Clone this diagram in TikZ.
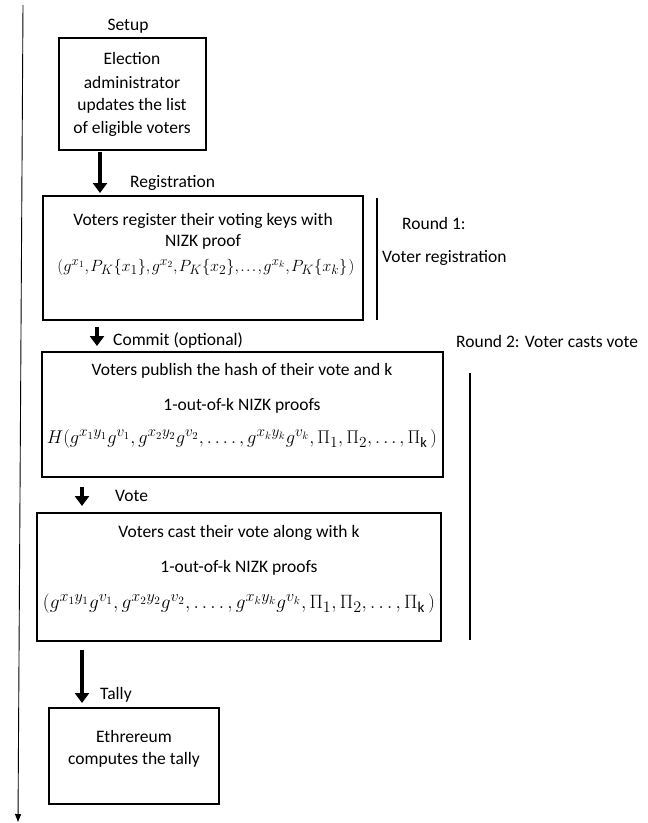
\documentclass[tikz,border=0pt]{standalone}
\usepackage{fontspec}
\setmainfont{Carlito}
\usetikzlibrary{arrows.meta}
\DeclareMathSizes{17.5}{17.5}{13.5}{10}
\begin{document}
\begin{tikzpicture}[x=1pt,y=-1pt,
  box/.style={draw, line width=2.6pt, inner sep=0pt},
  txt/.style={font=\fontsize{17.5}{20}\selectfont, inner sep=0pt, anchor=center},
  lbl/.style={font=\fontsize{17.5}{20}\selectfont, inner sep=0pt, anchor=west},
  bigarrow/.style={line width=4.5pt, -{Triangle[width=14pt,length=10pt]}},
  bar/.style={line width=2.6pt},
  timeline/.style={line width=0.9pt, -{Triangle[width=6pt,length=8pt]}}]
\useasboundingbox (0,0) rectangle (648,823);

% timeline
\coordinate (tltop) at (23,5);
\coordinate (tlbot) at (18,822);
\draw[timeline] (tltop) -- (tlbot);

% Setup
\node[txt] (setuplbl) at (128,26) {Setup};
\node[box, minimum width=147pt, minimum height=112pt] (setup) at (132.5,94) {};
\node[txt] (s1) at (132,58) {Election};
\node[txt] (s2) at (132,82) {administrator};
\node[txt] (s3) at (132,106) {updates the list};
\node[txt] (s4) at (132,129) {of eligible voters};

% arrow 1
\coordinate (a1s) at (100,152);
\coordinate (a1e) at (100,193);
\draw[bigarrow] (a1s) -- (a1e);
\node[lbl] (reglbl) at (130,183) {Registration};

% Registration
\node[box, minimum width=320pt, minimum height=124pt] (reg) at (203,258) {};
\node[txt] (r1) at (203,221) {Voters register their voting keys with};
\node[txt] (r2) at (203,242) {NIZK proof};
\node[txt] (r3) at (206,267) {\resizebox{297pt}{!}{\thinmuskip=1.5mu $(g^{x_1}, P_K\{x_1\}, g^{x_2}, P_K\{x_2\}, \ldots, g^{x_k}, P_K\{x_k\}\,)$}};

% Round 1
\coordinate (b1t) at (377,198);
\coordinate (b1b) at (377,320);
\draw[bar] (b1t) -- (b1b);
\node[lbl] (rd1a) at (402,223) {Round 1:};
\node[lbl] (rd1b) at (382,258) {Voter registration};

% Round 2 label
\node[lbl] (rd2) at (456,341) {Round 2: Voter casts vote};

% Commit arrow
\coordinate (a2s) at (97,327);
\coordinate (a2e) at (97,346);
\draw[bigarrow] (a2s) -- (a2e);
\node[lbl] (comlbl) at (113,341) {Commit (optional)};

% Commit box
\node[box, minimum width=401pt, minimum height=125pt] (com) at (242.5,414.5) {};
\node[txt] (c1) at (242,371) {Voters publish the hash of their vote and k};
\node[txt] (c2) at (242,406) {1-out-of-k NIZK proofs};
\node[txt] (c3) at (242,439) {\resizebox{390pt}{!}{$H(g^{x_1y_1}g^{v_1}, g^{x_2y_2}g^{v_2}, \ldots.\,, g^{x_ky_k}g^{v_k}, \Pi_1, \Pi_2, \ldots, \Pi_{\mathrm{k}}\,)$}};

% Vote arrow
\coordinate (a3s) at (82,487);
\coordinate (a3e) at (82,506);
\draw[bigarrow] (a3s) -- (a3e);
\node[lbl] (votelbl) at (115,496) {Vote};

% Vote box
\node[box, minimum width=404pt, minimum height=128pt] (vote) at (239,577) {};
\node[txt] (v1) at (239,533) {Voters cast their vote along with k};
\node[txt] (v2) at (239,568) {1-out-of-k NIZK proofs};
\node[txt] (v3) at (239,604) {\resizebox{392pt}{!}{$(g^{x_1y_1}g^{v_1}, g^{x_2y_2}g^{v_2}, \ldots.\,, g^{x_ky_k}g^{v_k}, \Pi_1, \Pi_2, \ldots, \Pi_{\mathrm{k}}\,)$}};

% Round 2 bar
\coordinate (b2t) at (470,373);
\coordinate (b2b) at (470,640);
\draw[bar] (b2t) -- (b2b);

% Tally arrow
\coordinate (a4s) at (82,650);
\coordinate (a4e) at (82,703);
\draw[bigarrow] (a4s) -- (a4e);
\node[lbl] (tallylbl) at (100,695) {Tally};

% Tally box
\node[box, minimum width=170pt, minimum height=96pt] (tally) at (134,756) {};
\node[txt] (t1) at (134,736) {Ethrereum};
\node[txt] (t2) at (134,760) {computes the tally};
\end{tikzpicture}
\end{document}
